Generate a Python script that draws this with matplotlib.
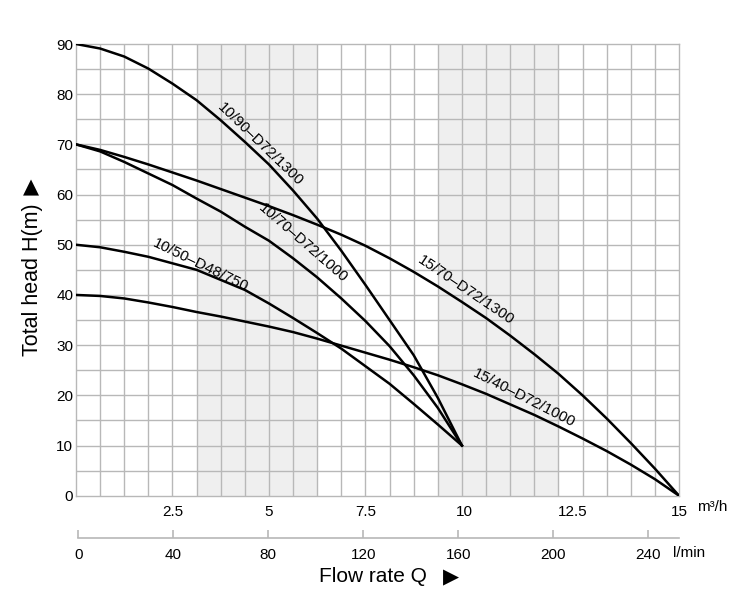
import matplotlib
matplotlib.use("Agg")
import matplotlib.pyplot as plt

plt.rcParams['font.family'] = ['Liberation Sans', 'DejaVu Sans']

# flow in l/min (grid step 10), head in m
q = [0, 10, 20, 30, 40, 50, 60, 70, 80, 90, 100, 110, 120, 130, 140, 150, 160]
q_long = q + [170, 180, 190, 200, 210, 220, 230, 240, 250]

h_90_1300 = [90, 89.1, 87.5, 85.1, 82.1, 78.8, 74.8, 70.5, 66.0, 60.8, 55.2,
             48.8, 42.0, 35.0, 28.0, 19.5, 10]
h_70_1000 = [70, 68.6, 66.5, 64.2, 61.9, 59.2, 56.6, 53.6, 50.8, 47.3, 43.5,
             39.3, 34.8, 29.8, 24.0, 17.5, 10]
h_50_750 = [50, 49.5, 48.6, 47.6, 46.3, 45.0, 43.0, 41.0, 38.3, 35.4, 32.4,
            29.3, 25.8, 22.3, 18.3, 14.2, 10]
h_70_1300 = [70, 68.9, 67.5, 66.0, 64.4, 62.8, 61.1, 59.4, 57.7, 55.9, 54.0,
             52.0, 49.8, 47.3, 44.6, 41.7, 38.6, 35.4, 31.9, 28.2, 24.3, 20.0,
             15.4, 10.5, 5.4, 0]
h_40_1000 = [40, 39.8, 39.3, 38.5, 37.6, 36.6, 35.7, 34.7, 33.7, 32.6, 31.3,
             29.9, 28.5, 27.1, 25.6, 24.0, 22.2, 20.3, 18.2, 16.1, 13.8, 11.4,
             8.9, 6.2, 3.3, 0]

curve_names = ["10/90–D72/1300", "15/70–D72/1300", "10/70–D72/1000",
               "10/50–D48/750", "15/40–D72/1000"]

y_ticks = [0, 10, 20, 30, 40, 50, 60, 70, 80, 90]
m3h_labels = ["2.5", "5", "7.5", "10", "12.5", "15"]
m3h_pos = [40, 80, 120, 161, 206, 250]
lmin_ticks = [0, 40, 80, 120, 160, 200, 240]
shaded = [(50, 100), (150, 200)]

grid_col = "#b8b8b8"

fig = plt.figure(figsize=(7.5, 5.92), dpi=100)
ax = fig.add_axes([76 / 750, 1 - 495.7 / 592, 603 / 750, 451.7 / 592])
ax.set_xlim(0, 250)
ax.set_ylim(0, 90)

for a, b in shaded:
    ax.axvspan(a, b, color="#efefef", zorder=0, lw=0)
for x in range(10, 250, 10):
    ax.axvline(x, color=grid_col, lw=1.0, zorder=1)
for y in range(5, 90, 5):
    ax.axhline(y, color=grid_col, lw=1.0, zorder=1)
for s in ax.spines.values():
    s.set_color(grid_col)
    s.set_linewidth(1.0)

curves = [(q, h_90_1300), (q_long, h_70_1300), (q, h_70_1000),
          (q, h_50_750), (q_long, h_40_1000)]
for xs, hs in curves:
    ax.plot(xs, hs, color="black", lw=1.8, zorder=3, solid_joinstyle="round")

# curve labels (centre, angle)
label_pos = [(76.5, 70.0, -44), (161.5, 40.9, -34), (94.0, 50.3, -41),
             (51.5, 46.0, -26), (185.8, 19.4, -27)]
for name, (x, y, r) in zip(curve_names, label_pos):
    ax.text(x, y, name, rotation=r, rotation_mode="anchor", ha="center",
            va="center", fontsize=11, zorder=4)

ax.set_yticks(y_ticks)
ax.set_yticklabels([str(v) for v in y_ticks], fontsize=11)
ax.set_xticks(m3h_pos)
ax.set_xticklabels(m3h_labels, fontsize=11)
ax.tick_params(axis="y", length=0, pad=2)
ax.tick_params(axis="x", length=0, pad=7)
fig.text(697 / 750, 1 - 507 / 592, "m³/h", ha="left", va="center", fontsize=11)

# second flow axis in l/min
ax2 = fig.add_axes([78.3 / 750, 1 - 538 / 592, (679 - 78.3) / 750, 0.0001])
ax2.set_xlim(0, 253)
ax2.patch.set_visible(False)
for side in ["left", "right", "top"]:
    ax2.spines[side].set_visible(False)
ax2.spines["bottom"].set_color(grid_col)
ax2.spines["bottom"].set_linewidth(1.2)
ax2.set_yticks([])
ax2.set_xticks(lmin_ticks)
ax2.set_xticklabels([str(v) for v in lmin_ticks], fontsize=11)
ax2.tick_params(axis="x", direction="in", length=6, width=1.2, color=grid_col, pad=7)
fig.text(673 / 750, 1 - 553 / 592, "l/min", ha="left", va="center", fontsize=11)

fig.text(33 / 750, 1 - 280 / 592, "Total head H(m)", rotation=90, ha="center",
         va="center", fontsize=15.5)
fig.text(31 / 750, 1 - 187 / 592, "▲", family="DejaVu Sans", ha="center",
         va="center", fontsize=15)
fig.text(373 / 750, 1 - 577 / 592, "Flow rate Q", ha="center", va="center", fontsize=15)
fig.text(451 / 750, 1 - 577 / 592, "▶", family="DejaVu Sans", ha="center",
         va="center", fontsize=15)

fig.savefig("out.png", dpi=100)
